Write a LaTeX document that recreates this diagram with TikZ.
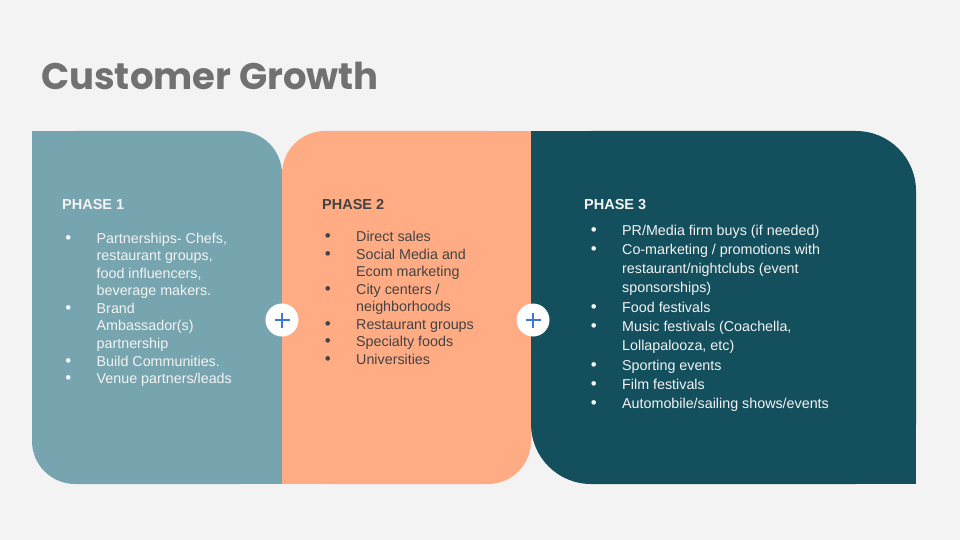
\documentclass[tikz,border=0pt]{standalone}
\usepackage{fontspec}
\setmainfont{Liberation Sans}
\newfontfamily\titlefont{Poppins}
\definecolor{bgc}{HTML}{F3F3F3}
\definecolor{pone}{HTML}{76A5AF}
\definecolor{ptwo}{HTML}{FFAB84}
\definecolor{pthree}{HTML}{134F5C}
\definecolor{titlec}{HTML}{717171}
\definecolor{darktext}{HTML}{434343}
\definecolor{lighttext}{HTML}{F3F3F3}
\definecolor{plusblue}{HTML}{3C78D8}
\newcommand{\mybul}{\llap{{\fontsize{17}{17}\selectfont\textbullet}\hskip 25.5pt}}
\tikzset{
  heading/.style={anchor=base west, inner sep=0pt, font=\fontsize{14.5}{17.55}\selectfont\bfseries},
  listbox/.style={anchor=north west, inner sep=0pt, align=left, font=\fontsize{14.3}{17.55}\selectfont},
  listboxwide/.style={anchor=north west, inner sep=0pt, align=left, font=\fontsize{14.3}{19.26}\selectfont},
  pluscirc/.style={circle, fill=white, minimum size=33pt, inner sep=0pt},
  plusline/.style={draw=plusblue, line width=2.2pt}
}
\begin{document}
\begin{tikzpicture}[x=1pt,y=-1pt]
\useasboundingbox (0,0) rectangle (960,540);
\fill[bgc] (0,0) rectangle (960,540);
% title
\node[anchor=base west, inner sep=0pt, text=titlec, font=\titlefont\fontsize{37}{40}\selectfont\bfseries] (title) at (41,90) {Customer Growth};
% panel 1
\fill[pone, rounded corners=43pt] (32,131) rectangle (282,484);
\fill[pone] (32,131) rectangle (110,210);
\fill[pone] (200,400) rectangle (282,484);
% panel 2
\fill[ptwo, rounded corners=43pt] (282,131) rectangle (531,484);
\fill[ptwo] (450,131) rectangle (531,210);
\fill[ptwo] (282,400) rectangle (360,484);
% panel 3
\fill[pthree, rounded corners=60pt] (531,131) rectangle (916,484);
\fill[pthree] (531,131) rectangle (620,220);
\fill[pthree] (820,390) rectangle (916,484);
% headings
\node[heading, text=lighttext] (h1) at (62,209) {PHASE 1};
\node[heading, text=darktext] (h2) at (322,209) {PHASE 2};
\node[heading, text=lighttext] (h3) at (584,209) {PHASE 3};
% lists
\node[listbox, text=lighttext] (l1) at (96.5,230.7) {\strut\mybul Partnerships- Chefs,\\restaurant groups,\\food influencers,\\beverage makers.\\\mybul Brand\\Ambassador(s)\\partnership\\\mybul Build Communities.\\\mybul Venue partners/leads};
\node[listbox, text=darktext] (l2) at (356,229.2) {\strut\mybul Direct sales\\\mybul Social Media and\\Ecom marketing\\\mybul City centers /\\neighborhoods\\\mybul Restaurant groups\\\mybul Specialty foods\\\mybul Universities};
\node[listboxwide, text=lighttext] (l3) at (622,221.5) {\strut\mybul PR/Media firm buys (if needed)\\\mybul Co-marketing / promotions with\\restaurant/nightclubs (event\\sponsorships)\\\mybul Food festivals\\\mybul Music festivals (Coachella,\\Lollapalooza, etc)\\\mybul Sporting events\\\mybul Film festivals\\\mybul Automobile/sailing shows/events};
% plus circles
\node[pluscirc] (c1) at (282,320) {};
\node[pluscirc] (c2) at (533,320) {};
\draw[plusline] ([xshift=-7.5pt]c1.center) -- ([xshift=7.5pt]c1.center);
\draw[plusline] ([yshift=-7.5pt]c1.center) -- ([yshift=7.5pt]c1.center);
\draw[plusline] ([xshift=-7.5pt]c2.center) -- ([xshift=7.5pt]c2.center);
\draw[plusline] ([yshift=-7.5pt]c2.center) -- ([yshift=7.5pt]c2.center);
\end{tikzpicture}
\end{document}
